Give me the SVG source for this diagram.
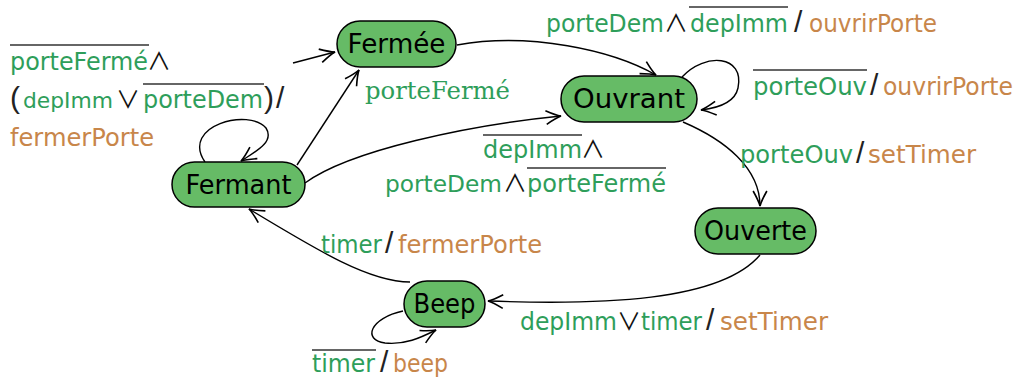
<svg xmlns="http://www.w3.org/2000/svg" width="1022" height="378" viewBox="0 0 1022 378">
<style>
.node rect{fill:#66bb66;stroke:#000;stroke-width:1.5}
.node text{font-family:"DejaVu Sans",sans-serif;font-size:26px;fill:#000;text-anchor:middle}
.edge{fill:none;stroke:#000;stroke-width:1.4;marker-end:url(#arr)}
.lbl{font-family:"DejaVu Sans",sans-serif;font-size:24px;fill:#111}
.g{fill:#2e9e5a}
.o{fill:#c8864a}
.s{font-family:"Noto Sans CJK JP","DejaVu Sans",sans-serif;font-size:24px;fill:#111}
.sl{font-family:"Liberation Sans",sans-serif;font-size:30px;fill:#222}
.ser{font-family:"DejaVu Serif",serif;font-size:24px;fill:#2e9e5a}
.ov{stroke:#333;stroke-width:1.3}
</style>
<defs>
<marker id="arr" markerUnits="userSpaceOnUse" markerWidth="20" markerHeight="20" viewBox="-14 -8 16 16" refX="0" refY="0" orient="auto">
<path d="M-12,-5.5 Q-4,-1 0,0 Q-4,1 -12,5.5" fill="none" stroke="#000" stroke-width="1.3"/>
</marker>
</defs>
<g id="connectors">
<path class="edge" d="M293,63 L335,52"/>
<path class="edge" d="M297,165 L359,70"/>
<path class="edge" d="M457,45 C530,32 612,50 656,75"/>
<path class="edge" d="M682,77 C705,52 745,55 738,88 C735,102 718,108 701,110"/>
<path class="edge" d="M683,122 C725,140 760,168 760,206"/>
<path class="edge" d="M760,255 C720,302 600,305 488,301"/>
<path class="edge" d="M410,282 C370,282 320,252 249,209"/>
<path class="edge" d="M305,183 C350,150 470,125 561,116"/>
<path class="edge" d="M205,162 C180,125 250,108 266,128 C275,142 255,152 241,161"/>
<path class="edge" d="M403,311 C370,318 362,340 385,343 C405,345 420,338 436,330"/>
</g>
<g id="fermee" class="node"><rect x="337" y="21" width="119" height="46" rx="23"/><text x="396.5" y="53" textLength="98" lengthAdjust="spacingAndGlyphs">Fermée</text></g>
<g id="ouvrant" class="node"><rect x="561" y="76" width="136" height="46" rx="23"/><text x="629" y="108" textLength="112" lengthAdjust="spacingAndGlyphs">Ouvrant</text></g>
<g id="fermant" class="node"><rect x="172" y="162" width="133" height="45" rx="22.5"/><text x="238.5" y="193.5" textLength="106" lengthAdjust="spacingAndGlyphs">Fermant</text></g>
<g id="ouverte" class="node"><rect x="695" y="208" width="121" height="46" rx="23"/><text x="755.5" y="240" textLength="103" lengthAdjust="spacingAndGlyphs">Ouverte</text></g>
<g id="beep" class="node"><rect x="404" y="281" width="81" height="46" rx="23"/><text x="444.5" y="313" textLength="62" lengthAdjust="spacingAndGlyphs">Beep</text></g>
<g id="labels">
<line class="ov" x1="10" y1="45" x2="149" y2="45"/>
<text class="lbl" y="70"><tspan class="g" x="10" textLength="138" lengthAdjust="spacingAndGlyphs">porteFermé</tspan><tspan class="s" x="147">∧</tspan></text>
<line class="ov" x1="143" y1="84" x2="264" y2="84"/>
<text class="lbl" y="108"><tspan class="sl" x="10">(</tspan><tspan class="g" x="23" font-size="22" textLength="90" lengthAdjust="spacingAndGlyphs">depImm</tspan><tspan class="s" x="116">∨</tspan><tspan class="g" x="143" textLength="120" lengthAdjust="spacingAndGlyphs">porteDem</tspan><tspan class="sl" x="264">)</tspan><tspan class="sl" x="276">/</tspan></text>
<text class="lbl o" x="10" y="146" textLength="144" lengthAdjust="spacingAndGlyphs">fermerPorte</text>
<line class="ov" x1="689" y1="7" x2="788" y2="7"/>
<text class="lbl" y="32"><tspan class="g" x="546" textLength="118" lengthAdjust="spacingAndGlyphs">porteDem</tspan><tspan class="s" x="664">∧</tspan><tspan class="g" x="690" textLength="98" lengthAdjust="spacingAndGlyphs">depImm</tspan><tspan class="sl" x="794">/</tspan><tspan class="o" x="809" textLength="128" lengthAdjust="spacingAndGlyphs">ouvrirPorte</tspan></text>
<text class="ser" x="365" y="99" textLength="145" lengthAdjust="spacingAndGlyphs">porteFermé</text>
<line class="ov" x1="753" y1="70" x2="867" y2="70"/>
<text class="lbl" y="95"><tspan class="g" x="753" textLength="114" lengthAdjust="spacingAndGlyphs">porteOuv</tspan><tspan class="sl" x="870">/</tspan><tspan class="o" x="883" textLength="130" lengthAdjust="spacingAndGlyphs">ouvrirPorte</tspan></text>
<line class="ov" x1="483" y1="135" x2="582" y2="135"/>
<text class="lbl" y="158"><tspan class="g" x="483" textLength="99" lengthAdjust="spacingAndGlyphs">depImm</tspan><tspan class="s" x="581">∧</tspan></text>
<line class="ov" x1="527" y1="168" x2="666" y2="168"/>
<text class="lbl" y="192"><tspan class="g" x="385" font-size="23.2" textLength="117" lengthAdjust="spacingAndGlyphs">porteDem</tspan><tspan class="s" x="503">∧</tspan><tspan class="g" x="527" textLength="139" lengthAdjust="spacingAndGlyphs">porteFermé</tspan></text>
<text class="lbl" y="163"><tspan class="g" x="740" textLength="113" lengthAdjust="spacingAndGlyphs">porteOuv</tspan><tspan class="sl" x="856">/</tspan><tspan class="o" x="868" textLength="108" lengthAdjust="spacingAndGlyphs">setTimer</tspan></text>
<text class="lbl" y="253"><tspan class="g" x="321" textLength="61" lengthAdjust="spacingAndGlyphs">timer</tspan><tspan class="sl" x="385">/</tspan><tspan class="o" x="398" textLength="144" lengthAdjust="spacingAndGlyphs">fermerPorte</tspan></text>
<text class="lbl" y="330"><tspan class="g" x="520" textLength="97" lengthAdjust="spacingAndGlyphs">depImm</tspan><tspan class="s" x="617">∨</tspan><tspan class="g" x="641" textLength="61" lengthAdjust="spacingAndGlyphs">timer</tspan><tspan class="sl" x="706">/</tspan><tspan class="o" x="720" textLength="108" lengthAdjust="spacingAndGlyphs">setTimer</tspan></text>
<line class="ov" x1="312" y1="350" x2="376" y2="350"/>
<text class="lbl" y="372"><tspan class="g" x="312" textLength="63" lengthAdjust="spacingAndGlyphs">timer</tspan><tspan class="sl" x="380">/</tspan><tspan class="o" x="393" textLength="55" lengthAdjust="spacingAndGlyphs">beep</tspan></text>
</g>
</svg>
